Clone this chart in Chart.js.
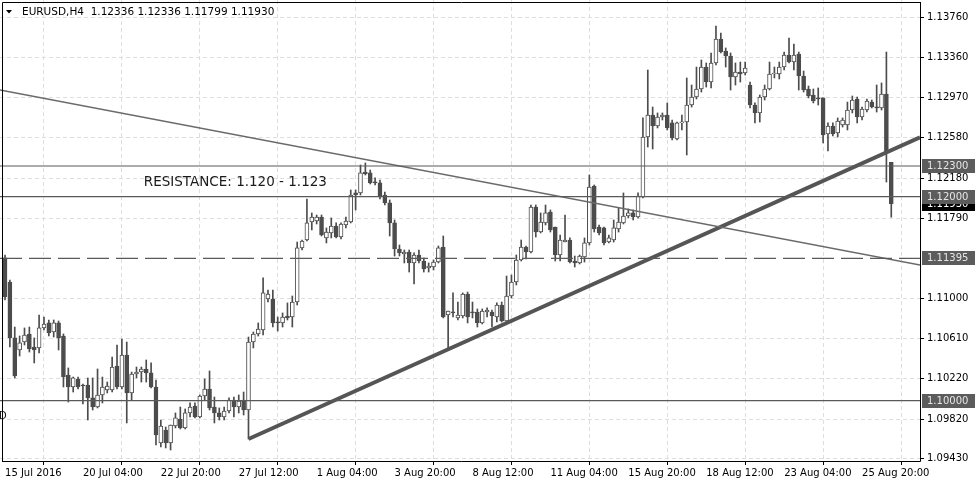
<!DOCTYPE html>
<html><head><meta charset="utf-8">
<script src="https://cdn.jsdelivr.net/npm/chart.js@4.4.1/dist/chart.umd.min.js"></script>
<style>html,body{margin:0;padding:0;background:#fff;overflow:hidden}</style>
</head><body>
<canvas id="c" width="975" height="488"></canvas>
<script>
const opens=[1.11399,1.11163,1.10615,1.10497,1.10575,1.10654,1.10526,1.10517,1.10713,1.10762,1.10673,1.10762,1.10634,1.10252,1.10134,1.10213,1.10154,1.10154,1.10027,1.09938,1.10056,1.10105,1.10105,1.10340,1.10134,1.10448,1.10076,1.10262,1.10281,1.10311,1.10272,1.10134,1.09586,1.09713,1.09586,1.09752,1.09821,1.09733,1.09880,1.09948,1.09840,1.10046,1.10115,1.09938,1.09880,1.09840,1.09899,1.10007,1.09938,1.10007,1.09909,1.10575,1.10654,1.10693,1.10997,1.10997,1.10771,1.10762,1.10830,1.10820,1.10967,1.11497,1.11575,1.11751,1.11761,1.11800,1.11595,1.11644,1.11712,1.11604,1.11722,1.11751,1.12036,1.12036,1.12241,1.12232,1.12143,1.12134,1.12016,1.11938,1.11742,1.11487,1.11438,1.11457,1.11350,1.11428,1.11369,1.11301,1.11310,1.11359,1.11506,1.10840,1.10869,1.10811,1.10830,1.11046,1.10869,1.10869,1.10762,1.10869,1.10869,1.10820,1.10938,1.10781,1.11026,1.11163,1.11379,1.11506,1.11457,1.11898,1.11653,1.11742,1.11849,1.11702,1.11428,1.11555,1.11575,1.11369,1.11350,1.11408,1.11546,1.12104,1.11702,1.11693,1.11555,1.11575,1.11683,1.11742,1.11810,1.11840,1.11800,1.11996,1.12584,1.12800,1.12692,1.12780,1.12800,1.12722,1.12565,1.12722,1.12731,1.12898,1.12976,1.13055,1.13270,1.13123,1.13310,1.13545,1.13427,1.13378,1.13172,1.13221,1.13212,1.13094,1.12898,1.12820,1.12976,1.13055,1.13202,1.13202,1.13270,1.13388,1.13319,1.13398,1.13182,1.13055,1.12996,1.12967,1.12967,1.12614,1.12692,1.12624,1.12702,1.12702,1.12849,1.12957,1.12780,1.12849,1.12927,1.12878,1.12869,1.13006,1.12336];
const highs=[1.11428,1.11183,1.10722,1.10634,1.10713,1.10722,1.10615,1.10840,1.10820,1.10791,1.10791,1.10781,1.10654,1.10321,1.10232,1.10232,1.10164,1.10223,1.10223,1.10311,1.10232,1.10183,1.10428,1.10546,1.10605,1.10575,1.10281,1.10330,1.10330,1.10399,1.10370,1.10203,1.09811,1.09742,1.09762,1.09880,1.09938,1.09919,1.09978,1.09978,1.10056,1.10213,1.10291,1.10036,1.09929,1.09938,1.10027,1.10036,1.10056,1.10085,1.10624,1.10673,1.10762,1.11203,1.11085,1.11085,1.10820,1.10860,1.10958,1.11026,1.11555,1.11575,1.11977,1.11840,1.11820,1.11820,1.11693,1.11791,1.11742,1.11742,1.11800,1.12065,1.12065,1.12310,1.12330,1.12261,1.12183,1.12163,1.12045,1.11967,1.11771,1.11526,1.11477,1.11477,1.11448,1.11477,1.11399,1.11350,1.11379,1.11516,1.11614,1.10879,1.11056,1.10967,1.11056,1.11065,1.10967,1.10899,1.10899,1.10909,1.10889,1.10958,1.10967,1.11222,1.11232,1.11428,1.11575,1.11516,1.11918,1.11918,1.11840,1.11918,1.11869,1.11702,1.11624,1.11820,1.11595,1.11418,1.11428,1.11595,1.12212,1.12114,1.11722,1.11702,1.11624,1.11771,1.11889,1.12036,1.11879,1.11869,1.12036,1.12771,1.13241,1.12878,1.12820,1.12820,1.12918,1.12751,1.12731,1.12800,1.13163,1.13094,1.13270,1.13339,1.13310,1.13408,1.13672,1.13604,1.13457,1.13408,1.13310,1.13319,1.13319,1.13123,1.12918,1.12996,1.13094,1.13319,1.13270,1.13319,1.13417,1.13555,1.13496,1.13417,1.13231,1.13084,1.13055,1.13065,1.12967,1.12722,1.12722,1.12771,1.12771,1.12927,1.12986,1.12976,1.12878,1.12957,1.12947,1.13094,1.13114,1.13417,1.12336];
const lows=[1.10987,1.10526,1.10223,1.10438,1.10546,1.10477,1.10370,1.10468,1.10693,1.10634,1.10624,1.10497,1.10134,1.09987,1.10085,1.10115,1.09968,1.09811,1.09909,1.09929,1.09978,1.10076,1.10085,1.10115,1.10115,1.09782,1.10007,1.10223,1.10183,1.10183,1.10125,1.09566,1.09546,1.09537,1.09517,1.09733,1.09723,1.09723,1.09840,1.09831,1.09831,1.10007,1.09909,1.09782,1.09811,1.09811,1.09880,1.09840,1.09880,1.09860,1.09625,1.10517,1.10634,1.10644,1.10967,1.10722,1.10683,1.10722,1.10791,1.10722,1.10938,1.11477,1.11565,1.11673,1.11732,1.11614,1.11546,1.11595,1.11595,1.11585,1.11693,1.11742,1.11869,1.12016,1.12212,1.12124,1.12114,1.11977,1.11918,1.11614,1.11418,1.11418,1.11350,1.11261,1.11144,1.11350,1.11261,1.11261,1.11281,1.11350,1.10811,1.10507,1.10820,1.10791,1.10811,1.10762,1.10811,1.10722,1.10752,1.10820,1.10722,1.10771,1.10771,1.10762,1.11007,1.11134,1.11369,1.11389,1.11448,1.11604,1.11644,1.11722,1.11653,1.11369,1.11369,1.11555,1.11350,1.11310,1.11340,1.11359,1.11526,1.11653,1.11624,1.11526,1.11546,1.11555,1.11653,1.11732,1.11791,1.11771,1.11791,1.11987,1.12486,1.12467,1.12673,1.12751,1.12653,1.12555,1.12555,1.12653,1.12408,1.12878,1.12957,1.13025,1.13074,1.13065,1.13290,1.13408,1.13270,1.13045,1.13094,1.13123,1.13192,1.12869,1.12722,1.12731,1.12947,1.13045,1.13163,1.13153,1.13241,1.13310,1.13241,1.13045,1.13025,1.12967,1.12918,1.12898,1.12526,1.12447,1.12594,1.12584,1.12682,1.12653,1.12820,1.12722,1.12751,1.12829,1.12869,1.12829,1.12849,1.12143,1.11799];
const closes=[1.11016,1.10615,1.10242,1.10566,1.10644,1.10507,1.10497,1.10713,1.10752,1.10664,1.10762,1.10615,1.10232,1.10134,1.10223,1.10134,1.10144,1.10027,1.09938,1.10056,1.10134,1.10144,1.10330,1.10134,1.10448,1.10076,1.10262,1.10281,1.10311,1.10272,1.10134,1.09664,1.09752,1.09586,1.09762,1.09831,1.09733,1.09880,1.09938,1.09840,1.10046,1.10115,1.09929,1.09880,1.09840,1.09899,1.10007,1.09938,1.09997,1.09909,1.10575,1.10654,1.10703,1.11056,1.11046,1.10762,1.10762,1.10820,1.10811,1.10967,1.11497,1.11565,1.11742,1.11800,1.11800,1.11624,1.11653,1.11712,1.11604,1.11732,1.11761,1.12016,1.12016,1.12232,1.12222,1.12134,1.12134,1.11996,1.11938,1.11742,1.11487,1.11448,1.11457,1.11350,1.11428,1.11369,1.11291,1.11320,1.11359,1.11497,1.10820,1.10879,1.10860,1.10840,1.11046,1.10820,1.10860,1.10762,1.10879,1.10889,1.10830,1.10938,1.10781,1.11026,1.11163,1.11379,1.11506,1.11457,1.11898,1.11653,1.11751,1.11840,1.11673,1.11428,1.11575,1.11575,1.11359,1.11350,1.11418,1.11546,1.12094,1.11683,1.11644,1.11546,1.11595,1.11693,1.11751,1.11810,1.11840,1.11800,1.12006,1.12584,1.12800,1.12692,1.12780,1.12800,1.12673,1.12575,1.12722,1.12731,1.12898,1.12976,1.13055,1.13270,1.13123,1.13310,1.13545,1.13417,1.13378,1.13172,1.13221,1.13202,1.13261,1.12898,1.12820,1.12976,1.13055,1.13202,1.13212,1.13270,1.13388,1.13319,1.13388,1.13182,1.13045,1.12986,1.12937,1.12957,1.12604,1.12692,1.12614,1.12741,1.12751,1.12849,1.12947,1.12780,1.12859,1.12937,1.12878,1.12869,1.13006,1.12437,1.11930];

const timeTickBars=[0,16,32,48,64,80,96,112,128,144,160,176];
const timeTickLabels=["15 Jul 2016","20 Jul 04:00","22 Jul 20:00","27 Jul 12:00","1 Aug 04:00","3 Aug 20:00","8 Aug 12:00","11 Aug 04:00","15 Aug 20:00","18 Aug 12:00","23 Aug 04:00","25 Aug 20:00"];
const priceTicks=[1.13760,1.13360,1.12970,1.12580,1.12180,1.11790,1.11000,1.10610,1.10220,1.09820,1.09430];
const solidLevels=[1.12300,1.12000,1.10000];
const dashedLevels=[1.11395];
const fallingLine=[[-1.03,1.13045],[187.9,1.11330]];
const risingLine=[[50,1.09625],[187.9,1.12581]];
const markerPrices=[1.11930,1.12300,1.12000,1.11395,1.10000];
const markerIsCurrent=[true,false,false,false,false];
const symbolName="EURUSD,H4";
const noteText="RESISTANCE: 1.120 - 1.123";
const noteAnchor=[28.5,1.12140];

const X_MIN=-1.03, X_MAX=187.9, Y_MIN=1.09409, Y_MAX=1.13927;
const DARK='#4c4c4c';
const FONT='"DejaVu Sans", sans-serif';

const idx=opens.map((_,i)=>i);
const bodies=idx.map(i=>({x:i,y:[opens[i],closes[i]]}));
const wicks=idx.map(i=>({x:i,y:[lows[i],highs[i]]}));
const levelSets=[];
solidLevels.forEach(v=>levelSets.push({type:'line',data:[{x:X_MIN,y:v},{x:X_MAX,y:v}],borderColor:'#5a5a5a',borderWidth:1.2,pointRadius:0,order:0}));
dashedLevels.forEach(v=>levelSets.push({type:'line',data:[{x:X_MIN,y:v},{x:X_MAX,y:v}],borderColor:'#5a5a5a',borderWidth:1.2,borderDash:[22,7],pointRadius:0,order:0}));
levelSets.push({type:'line',data:fallingLine.map(p=>({x:p[0],y:p[1]})),borderColor:'#6a6a6a',borderWidth:1.4,pointRadius:0,order:0});
levelSets.push({type:'line',data:risingLine.map(p=>({x:p[0],y:p[1]})),borderColor:'#555555',borderWidth:3.8,pointRadius:0,order:0});

const decor={
  id:'decor',
  afterDraw(chart){
    const ctx=chart.ctx, ys=chart.scales.y, ca=chart.chartArea, xs=chart.scales.x;
    ctx.save();
    ctx.strokeStyle='#000';ctx.lineWidth=1;
    ctx.beginPath();
    ctx.moveTo(2.5,2.5);ctx.lineTo(ca.right+0.5,2.5);
    ctx.moveTo(2.5,2.5);ctx.lineTo(2.5,ca.bottom+0.5);
    ctx.moveTo(ca.right+0.5,2);ctx.lineTo(ca.right+0.5,ca.bottom+0.5);
    ctx.moveTo(2,ca.bottom+0.5);ctx.lineTo(ca.right+0.5,ca.bottom+0.5);
    ctx.stroke();
    ctx.fillStyle='#000';
    ctx.beginPath();ctx.moveTo(6,10);ctx.lineTo(12,10);ctx.lineTo(9,13.5);ctx.closePath();ctx.fill();
    ctx.font='10.5px '+FONT;ctx.textBaseline='middle';ctx.textAlign='left';
    const n=opens.length-1;
    ctx.fillText(symbolName+'  '+opens[n].toFixed(5)+' '+highs[n].toFixed(5)+' '+lows[n].toFixed(5)+' '+closes[n].toFixed(5),22,12);
    ctx.font='13.5px '+FONT;ctx.fillStyle='#1a1a1a';
    ctx.fillText(noteText,xs.getPixelForValue(noteAnchor[0]),ys.getPixelForValue(noteAnchor[1]));
    ctx.font='10px '+FONT;ctx.fillStyle='#111';
    ctx.fillText('D',-1,416);
    markerPrices.forEach((p,k)=>{
      const y=Math.round(ys.getPixelForValue(p));
      ctx.fillStyle=markerIsCurrent[k]?'#000':'#5c5c5c';
      ctx.fillRect(ca.right+2,y-7,975-ca.right-2,14);
      ctx.fillStyle=markerIsCurrent[k]?'#fff':'#e6e6e6';
      ctx.fillText(p.toFixed(5),ca.right+7,y+0.5);
    });
    ctx.restore();
  }
};

new Chart(document.getElementById('c'),{
  type:'bar',
  data:{datasets:[
    ...levelSets,
    {type:'bar',data:bodies,grouped:false,barThickness:4,minBarLength:1,borderWidth:1,borderSkipped:false,
     borderColor:DARK,
     backgroundColor:c=>{const i=c.dataIndex;return closes[i]>=opens[i]?'#ffffff':DARK;},order:1},
    {type:'bar',data:wicks,grouped:false,barThickness:1,borderWidth:0,backgroundColor:DARK,order:2}
  ]},
  options:{
    responsive:false,animation:false,devicePixelRatio:1,
    layout:{padding:0},
    plugins:{legend:{display:false},tooltip:{enabled:false}},
    scales:{
      x:{type:'linear',min:X_MIN,max:X_MAX,offset:false,
        afterBuildTicks:s=>{s.ticks=timeTickBars.map(v=>({value:v}));},
        afterFit:s=>{s.height=27;s.paddingLeft=0;s.paddingRight=0;},
        grid:{color:'#dedede',lineWidth:1,tickLength:4,tickColor:'#000',tickBorderDash:[],drawOnChartArea:true},
        border:{display:false,dash:[4,3]},
        ticks:{autoSkip:false,maxRotation:0,minRotation:0,align:'start',padding:2,color:'#000',font:{family:'DejaVu Sans',size:10},
          callback:v=>{const k=timeTickBars.indexOf(v);return k>=0?timeTickLabels[k]:'';}}
      },
      y:{type:'linear',position:'right',min:Y_MIN,max:Y_MAX,
        afterBuildTicks:s=>{s.ticks=priceTicks.map(v=>({value:v}));},
        afterFit:s=>{s.width=55;s.paddingTop=0;s.paddingBottom=0;},
        grid:{color:'#dedede',lineWidth:1,tickLength:4,tickColor:'#000',tickBorderDash:[],drawOnChartArea:true},
        border:{display:false,dash:[4,3]},
        ticks:{autoSkip:false,padding:3,color:'#000',font:{family:'DejaVu Sans',size:10},callback:v=>v.toFixed(5)}
      }
    }
  },
  plugins:[decor]
});
</script>
</body></html>
